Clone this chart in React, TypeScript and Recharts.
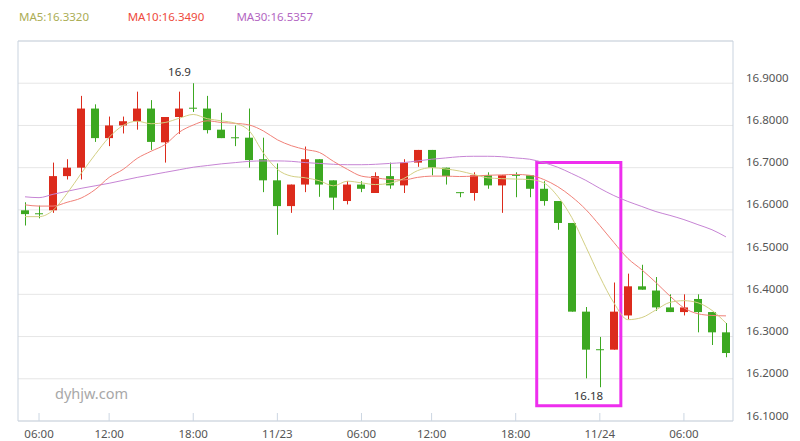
import {
  ComposedChart,
  Bar,
  Line,
  XAxis,
  YAxis,
  CartesianGrid,
  ReferenceArea,
} from "recharts";

const times = [
  "11/22 05:00", "11/22 06:00", "11/22 08:00", "11/22 09:00", "11/22 10:00", "11/22 11:00",
  "11/22 12:00", "11/22 13:00", "11/22 14:00", "11/22 15:00", "11/22 16:00", "11/22 17:00",
  "11/22 18:00", "11/22 19:00", "11/22 20:00", "11/22 21:00", "11/22 22:00", "11/22 23:00",
  "11/23 00:00", "11/23 01:00", "11/23 02:00", "11/23 03:00", "11/23 04:00", "11/23 05:00",
  "11/23 06:00", "11/23 08:00", "11/23 09:00", "11/23 10:00", "11/23 11:00", "11/23 12:00",
  "11/23 13:00", "11/23 14:00", "11/23 15:00", "11/23 16:00", "11/23 17:00", "11/23 18:00",
  "11/23 19:00", "11/23 20:00", "11/23 21:00", "11/23 22:00", "11/23 23:00", "11/24 00:00",
  "11/24 01:00", "11/24 02:00", "11/24 03:00", "11/24 04:00", "11/24 05:00", "11/24 06:00",
  "11/24 08:00", "11/24 09:00", "11/24 10:00",
];

const opens = [
  16.599, 16.592, 16.599, 16.68, 16.7, 16.84, 16.77, 16.8, 16.81, 16.84, 16.76, 16.82, 16.842,
  16.84, 16.79, 16.772, 16.771, 16.72, 16.67, 16.609, 16.66, 16.72, 16.67, 16.621, 16.66,
  16.64, 16.68, 16.658, 16.712, 16.742, 16.7, 16.642, 16.64, 16.682, 16.658, 16.683, 16.682,
  16.65, 16.621, 16.569, 16.359, 16.27, 16.269, 16.35, 16.419, 16.409, 16.369, 16.358, 16.389,
  16.358, 16.31,
];
const highs = [
  16.618, 16.61, 16.712, 16.72, 16.87, 16.85, 16.821, 16.821, 16.88, 16.86, 16.82, 16.88, 16.9,
  16.87, 16.83, 16.8, 16.84, 16.771, 16.71, 16.66, 16.75, 16.72, 16.67, 16.668, 16.668,
  16.689, 16.712, 16.72, 16.742, 16.742, 16.7, 16.642, 16.689, 16.689, 16.682, 16.689, 16.682,
  16.668, 16.621, 16.569, 16.37, 16.299, 16.428, 16.449, 16.47, 16.441, 16.4, 16.4, 16.4,
  16.358, 16.332,
];
const lows = [
  16.563, 16.58, 16.593, 16.672, 16.672, 16.761, 16.751, 16.781, 16.79, 16.742, 16.712, 16.78,
  16.832, 16.781, 16.77, 16.751, 16.7, 16.642, 16.541, 16.593, 16.642, 16.631, 16.6, 16.613,
  16.642, 16.64, 16.65, 16.64, 16.702, 16.682, 16.66, 16.63, 16.622, 16.65, 16.593, 16.63,
  16.63, 16.61, 16.553, 16.359, 16.201, 16.18, 16.269, 16.341, 16.411, 16.361, 16.358, 16.35,
  16.31, 16.28, 16.251,
];
const closes = [
  16.59, 16.59, 16.68, 16.7, 16.84, 16.77, 16.8, 16.81, 16.84, 16.761, 16.82, 16.84, 16.84,
  16.789, 16.77, 16.771, 16.718, 16.67, 16.609, 16.66, 16.72, 16.66, 16.629, 16.66, 16.65,
  16.68, 16.658, 16.712, 16.742, 16.7, 16.68, 16.641, 16.682, 16.658, 16.682, 16.682, 16.65,
  16.621, 16.569, 16.359, 16.269, 16.269, 16.359, 16.419, 16.411, 16.369, 16.358, 16.369,
  16.358, 16.31, 16.261,
];

const ma5 = [
  16.584, 16.584, 16.599, 16.639, 16.686, 16.731, 16.772, 16.8, 16.81, 16.804, 16.807, 16.817,
  16.826, 16.816, 16.811, 16.805, 16.787, 16.735, 16.696, 16.68, 16.676, 16.669, 16.657,
  16.668, 16.664, 16.66, 16.663, 16.674, 16.693, 16.7, 16.697, 16.692, 16.684, 16.676, 16.674,
  16.673, 16.672, 16.664, 16.632, 16.582, 16.513, 16.442, 16.38, 16.34, 16.345, 16.363,
  16.381, 16.385, 16.38, 16.362, 16.332,
];
const ma10 = [
  16.612, 16.609, 16.609, 16.618, 16.628, 16.648, 16.677, 16.696, 16.722, 16.739, 16.755,
  16.784, 16.801, 16.811, 16.807, 16.805, 16.801, 16.787, 16.766, 16.752, 16.743, 16.736,
  16.715, 16.696, 16.68, 16.676, 16.672, 16.671, 16.677, 16.68, 16.68, 16.679, 16.68, 16.682,
  16.683, 16.684, 16.682, 16.672, 16.655, 16.631, 16.601, 16.563, 16.523, 16.485, 16.458,
  16.428, 16.396, 16.368, 16.354, 16.35, 16.349,
];
const ma30 = [
  16.631, 16.629, 16.637, 16.644, 16.651, 16.657, 16.663, 16.67, 16.677, 16.683, 16.689,
  16.695, 16.701, 16.705, 16.709, 16.712, 16.715, 16.716, 16.716, 16.715, 16.712, 16.71,
  16.708, 16.707, 16.707, 16.708, 16.71, 16.712, 16.716, 16.72, 16.723, 16.726, 16.727,
  16.727, 16.726, 16.723, 16.72, 16.712, 16.701, 16.686, 16.67, 16.651, 16.634, 16.62, 16.608,
  16.596, 16.587, 16.577, 16.565, 16.553, 16.536,
];

const yTicks = [16.1, 16.2, 16.3, 16.4, 16.5, 16.6, 16.7, 16.8, 16.9];
const xTicks = [
  "11/22 06:00", "11/22 12:00", "11/22 18:00", "11/23 00:00", "11/23 06:00",
  "11/23 12:00", "11/23 18:00", "11/24 00:00", "11/24 06:00",
];

// highlighted box (magenta)
const boxFrom = "11/23 20:00";
const boxTo = "11/24 01:00";
const boxLow = 16.136;
const boxHigh = 16.712;

const UP = "#dc2b1c";
const DOWN = "#3ca821";
const FONT = "'Noto Sans', 'Open Sans', sans-serif";

const rows = times.map((t, i) => ({
  t,
  open: opens[i],
  high: highs[i],
  low: lows[i],
  close: closes[i],
  range: [lows[i], highs[i]],
  ma5: ma5[i],
  ma10: ma10[i],
  ma30: ma30[i],
}));

const maxIdx = highs.indexOf(Math.max(...highs));
const minIdx = lows.indexOf(Math.min(...lows));

const Candle = (props: any) => {
  const { x, y, width, height, payload, index } = props;
  if (!payload) return null;
  const top = Math.min(y, y + height);
  const h = Math.abs(height);
  const { open, close, high, low } = payload;
  const k = high === low ? 0 : h / (high - low);
  const yOf = (v: number) => top + (high - v) * k;
  const color = close > open ? UP : DOWN;
  const cx = Math.round(x + width / 2) + 0.5;
  const b1 = yOf(Math.max(open, close));
  const b2 = yOf(Math.min(open, close));
  return (
    <g>
      <line x1={cx} x2={cx} y1={top} y2={top + h} stroke={color} strokeWidth={1} />
      <rect x={Math.round(x)} y={b1} width={width} height={Math.max(1, b2 - b1)} fill={color} />
      {index === maxIdx && (
        <text x={cx - 14} y={top - 7} textAnchor="middle" fontSize={11.5} fill="#333" fontFamily={FONT}>
          {String(high)}
        </text>
      )}
      {index === minIdx && (
        <text x={cx - 12} y={top + h + 13} textAnchor="middle" fontSize={11.5} fill="#333" fontFamily={FONT}>
          {String(low)}
        </text>
      )}
    </g>
  );
};

const XTick = (props: any) => {
  const { x, y, payload } = props;
  const [d, hm] = String(payload.value).split(" ");
  return (
    <g>
      <line x1={x} x2={x} y1={y - 8} y2={y} stroke="#ccd6e2" />
      <text x={x} y={y + 17} textAnchor="middle" fontSize={11.5} fill="#555" fontFamily={FONT}>
        {hm === "00:00" ? d : hm}
      </text>
    </g>
  );
};

const YTick = (props: any) => {
  const { x, y, payload } = props;
  return (
    <text x={x} y={y - 1.5} textAnchor="start" fontSize={11.5} fill="#555" fontFamily={FONT}>
      {Number(payload.value).toFixed(4)}
    </text>
  );
};

const legend = [
  { label: "MA5", value: ma5[ma5.length - 1], color: "#abad55" },
  { label: "MA10", value: 16.349, color: "#ee4a3c" },
  { label: "MA30", value: 16.5357, color: "#b366c2" },
];

export default function App() {
  return (
    <div
      style={{
        position: "absolute",
        left: 0,
        top: 0,
        width: 800,
        height: 441,
        background: "#fff",
        fontFamily: FONT,
      }}
    >
      <div style={{ position: "absolute", left: 19, top: 8, display: "flex", fontSize: 11.5 }}>
        {legend.map((l) => (
          <div key={l.label} style={{ width: 108.7, color: l.color, lineHeight: "18px" }}>
            {l.label}:{l.value.toFixed(4)}
          </div>
        ))}
      </div>
      <div
        style={{
          position: "absolute",
          left: 55,
          top: 383,
          fontSize: 14.5,
          lineHeight: "20px",
          color: "#a8a8a8",
        }}
      >
        dyhjw.com
      </div>
      <ComposedChart
        width={800}
        height={441}
        data={rows}
        margin={{ top: 41, right: 0, bottom: 0, left: 18 }}
      >
        <CartesianGrid vertical={false} stroke="#e6e6e6" />
        <XAxis
          dataKey="t"
          ticks={xTicks}
          interval={0}
          height={20}
          tickSize={0}
          tickMargin={0}
          tickLine={false}
          axisLine={false}
          tick={<XTick />}
        />
        <YAxis
          orientation="right"
          domain={[16.1, 17.0]}
          ticks={yTicks}
          allowDataOverflow
          width={67}
          tickSize={0}
          tickMargin={13}
          tickLine={false}
          axisLine={false}
          tick={<YTick />}
        />
        <ReferenceArea
          x1={times[0]}
          x2={times[times.length - 1]}
          y1={16.1}
          y2={17.0}
          fill="none"
          fillOpacity={0}
          stroke="#c9d3df"
          strokeWidth={1}
        />
        <Bar dataKey="range" barSize={8} shape={<Candle />} isAnimationActive={false} />
        <Line type="monotone" dataKey="ma30" stroke="#c684d4" strokeWidth={1} dot={false} activeDot={false} isAnimationActive={false} />
        <Line type="monotone" dataKey="ma10" stroke="#f08078" strokeWidth={1} dot={false} activeDot={false} isAnimationActive={false} />
        <Line type="monotone" dataKey="ma5" stroke="#d3cf84" strokeWidth={1} dot={false} activeDot={false} isAnimationActive={false} />
        <ReferenceArea
          x1={boxFrom}
          x2={boxTo}
          y1={boxLow}
          y2={boxHigh}
          fill="none"
          fillOpacity={0}
          stroke="#ee2eee"
          strokeWidth={3}
        />
      </ComposedChart>
    </div>
  );
}
